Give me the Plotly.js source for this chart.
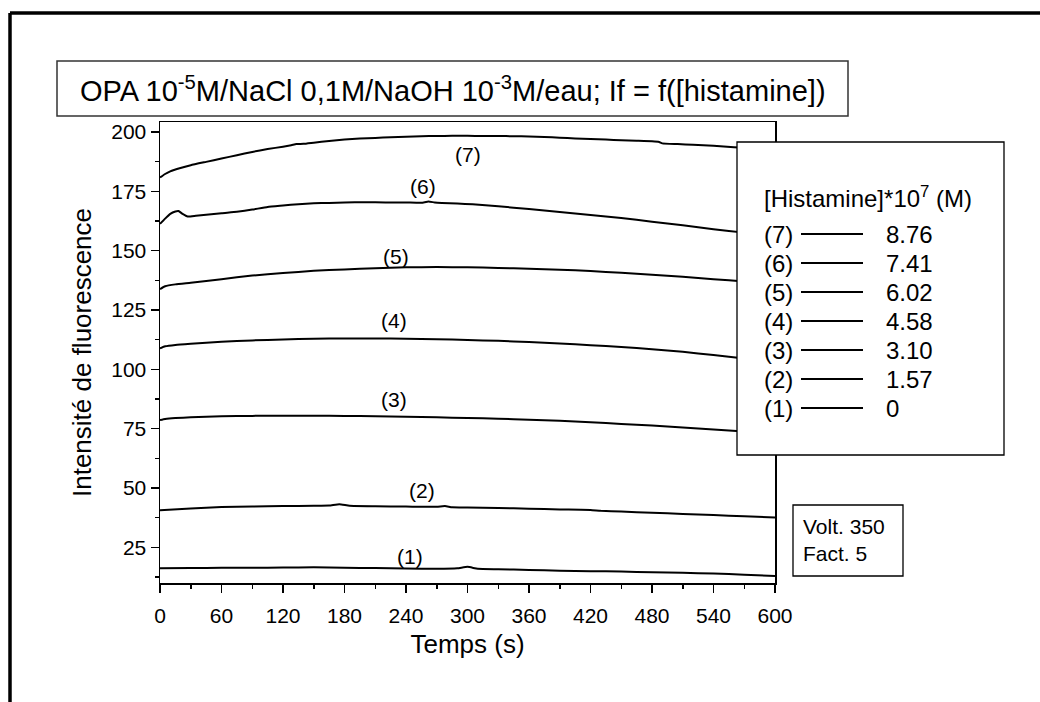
<!DOCTYPE html>
<html>
<head>
<meta charset="utf-8">
<script src="https://cdn.plot.ly/plotly-3.0.1.min.js"></script>
<style>html,body{margin:0;padding:0;background:#fff;}#chart{width:1040px;height:702px;}</style>
</head>
<body>
<div id="chart"></div>
<script>
// ---- data (time in s, fluorescence intensity) ----
const t7 = [0,5,10,20,30,45,60,75,90,105,120,128,133,140,150,165,180,195,210,225,240,255,270,285,300,315,330,345,360,375,390,405,420,435,450,465,480,487,490,505,520,540,560,580,600];
const y7 = [180.8,182.3,183.4,184.8,186,187.4,188.8,190.2,191.6,192.8,193.8,194.4,194.9,195.0,195.5,196.2,196.8,197.2,197.5,197.8,198,198.2,198.3,198.4,198.4,198.3,198.3,198.2,198.1,197.9,197.6,197.3,197,196.8,196.5,196.3,196.1,195.8,195.2,194.9,194.6,194.2,193.6,193.2,192.8];
const t6 = [0,5,10,15,18,22,27,35,45,60,75,90,105,120,135,150,165,180,200,220,240,255,262,268,275,290,305,330,360,390,420,450,480,510,540,570,600];
const y6 = [161.3,163.5,165.5,166.5,166.7,165.5,164.4,164.7,165.1,165.8,166.4,167.3,168.4,169,169.6,170,170.1,170.3,170.4,170.3,170.3,170.2,170.7,170.3,170.1,169.9,169.5,168.7,167.5,166.3,165,163.8,162.2,160.7,159,157.6,156.8];
const tStd = [0,5,15,30,60,90,120,150,180,210,240,270,300,330,360,390,420,450,480,510,540,570,600];
const y5 = [133.8,135,135.8,136.5,138,139.5,140.6,141.5,142.1,142.6,143,143.1,143,142.7,142.4,142,141.4,140.7,139.9,139,138,137,136.2];
const y4 = [108.8,109.7,110.3,110.8,111.6,112.2,112.6,112.9,113,113,112.9,112.7,112.4,112,111.5,110.9,110.2,109.4,108.5,107.4,106,104.6,103.6];
const y3 = [78.6,79.1,79.5,79.8,80.2,80.4,80.5,80.5,80.4,80.2,80,79.8,79.5,79.2,78.8,78.3,77.7,77,76.3,75.5,74.7,73.8,73.2];
const t2 = [0,30,60,90,120,150,165,175,185,210,240,270,278,285,300,330,360,390,420,430,450,480,510,540,570,600];
const y2 = [40.6,41.4,42,42.2,42.4,42.5,42.6,43.2,42.5,42.3,42.2,42.1,42.4,41.9,41.8,41.6,41.3,41,40.8,40.4,40.1,39.6,39.1,38.6,38.1,37.6];
const t1 = [0,30,60,90,120,150,180,210,240,270,290,300,310,330,360,390,420,450,480,510,540,570,600];
const y1 = [16.2,16.3,16.4,16.4,16.5,16.6,16.4,16.3,16.1,16,16.2,16.8,16,15.8,15.5,15.2,15,14.8,14.5,14.3,14,13.5,13];

const curveLabels = ['(7)','(6)','(5)','(4)','(3)','(2)','(1)'];
const labelX = [300,257,230,228,228,256,244];
const labelY = [190.5,177,147.6,120.6,87.4,49,21.2];
const concLabels = ['8.76','7.41','6.02','4.58','3.10','1.57','0'];
const legendTitle = '[Histamine]*10<sup>7</sup> (M)';
const chartTitle = 'OPA 10<sup>-5</sup>M/NaCl 0,1M/NaOH 10<sup>-3</sup>M/eau; If = f([histamine])';
const noteText = 'Volt. 350<br>Fact. 5';
const xTitle = 'Temps (s)';
const yTitle = 'Intensité de fluorescence';

// ---- layout geometry (pixels) ----
const W = 1040, H = 702;
const L = 160, R = 775, T = 122, B = 583;
const xp = px => (px - L) / (R - L);
const yp = py => (B - py) / (B - T);
const FONT = 'Liberation Sans, Arial, sans-serif';

const series = [[t7,y7],[t6,y6],[tStd,y5],[tStd,y4],[tStd,y3],[t2,y2],[t1,y1]];
const traces = series.map((s,i) => ({
  x: s[0], y: s[1], type: 'scatter', mode: 'lines',
  line: {color: '#000', width: 2, shape: 'spline', smoothing: 0.4},
  hoverinfo: 'skip', showlegend: false
}));

const shapes = [];
const annotations = [];
// outer frame (top and left edges)
shapes.push({type:'line', xref:'paper', yref:'paper', x0:xp(10), x1:xp(1045), y0:yp(13), y1:yp(13), line:{color:'#000', width:3.5}});
shapes.push({type:'line', xref:'paper', yref:'paper', x0:xp(10), x1:xp(10), y0:yp(13), y1:yp(710), line:{color:'#000', width:3.5}});
// title box
shapes.push({type:'rect', xref:'paper', yref:'paper', x0:xp(57), x1:xp(848), y0:yp(61), y1:yp(116), line:{color:'#333', width:1.5}, fillcolor:'#fff'});
annotations.push({xref:'paper', yref:'paper', x:xp(453), y:yp(89), text:chartTitle, showarrow:false, xanchor:'center', yanchor:'middle', font:{family:FONT, size:29, color:'#000'}});
// legend box
shapes.push({type:'rect', xref:'paper', yref:'paper', x0:xp(737), x1:xp(1004), y0:yp(142), y1:yp(455), line:{color:'#000', width:1.3}, fillcolor:'#fff'});
annotations.push({xref:'paper', yref:'paper', x:xp(762), y:yp(197), text:legendTitle, showarrow:false, xanchor:'left', yanchor:'middle', font:{family:FONT, size:24, color:'#000'}});
curveLabels.forEach((lab,i) => {
  const py = 234 + i * 29;
  annotations.push({xref:'paper', yref:'paper', x:xp(762), y:yp(py), text:lab, showarrow:false, xanchor:'left', yanchor:'middle', font:{family:FONT, size:24, color:'#000'}});
  annotations.push({xref:'paper', yref:'paper', x:xp(884), y:yp(py), text:concLabels[i], showarrow:false, xanchor:'left', yanchor:'middle', font:{family:FONT, size:24, color:'#000'}});
  shapes.push({type:'line', xref:'paper', yref:'paper', x0:xp(801), x1:xp(863), y0:yp(py), y1:yp(py), line:{color:'#000', width:2}});
});
// note box
shapes.push({type:'rect', xref:'paper', yref:'paper', x0:xp(793), x1:xp(903), y0:yp(505), y1:yp(576), line:{color:'#000', width:1.3}, fillcolor:'#fff'});
annotations.push({xref:'paper', yref:'paper', x:xp(801), y:yp(540), text:noteText, showarrow:false, xanchor:'left', yanchor:'middle', align:'left', font:{family:FONT, size:21, color:'#000'}});
// curve labels
curveLabels.forEach((lab,i) => {
  annotations.push({xref:'x', yref:'y', x:labelX[i], y:labelY[i], text:lab, showarrow:false, xanchor:'center', yanchor:'middle', font:{family:FONT, size:21, color:'#000'}});
});

const layout = {
  width: W, height: H,
  margin: {l: L, r: W - R, t: T, b: H - B, pad: 0},
  paper_bgcolor: '#fff', plot_bgcolor: '#fff',
  showlegend: false,
  font: {family: FONT, color: '#000'},
  xaxis: {
    range: [0, 600], tick0: 0, dtick: 60, ticks: 'outside', ticklen: 8, tickwidth: 1.5, tickcolor: '#000',
    minor: {dtick: 30, ticks: 'outside', ticklen: 4, tickwidth: 1.5, tickcolor: '#000'},
    showline: true, linecolor: '#000', linewidth: 1.5, mirror: true, showgrid: false, zeroline: false,
    ticklabelstandoff: 5,
    tickfont: {family: FONT, size: 21, color: '#000'},
    title: {text: xTitle, font: {family: FONT, size: 26, color: '#000'}, standoff: 9}
  },
  yaxis: {
    range: [10, 204.2], tick0: 0, dtick: 25, ticks: 'outside', ticklen: 8, tickwidth: 1.5, tickcolor: '#000',
    minor: {dtick: 12.5, ticks: 'outside', ticklen: 4, tickwidth: 1.5, tickcolor: '#000'},
    showline: true, linecolor: '#000', linewidth: 1.5, mirror: true, showgrid: false, zeroline: false,
    tickfont: {family: FONT, size: 21, color: '#000'},
    title: {text: yTitle, font: {family: FONT, size: 26, color: '#000'}, standoff: 12}
  },
  shapes: shapes,
  annotations: annotations
};

Plotly.newPlot('chart', traces, layout, {staticPlot: true, displayModeBar: false});
</script>
</body>
</html>
